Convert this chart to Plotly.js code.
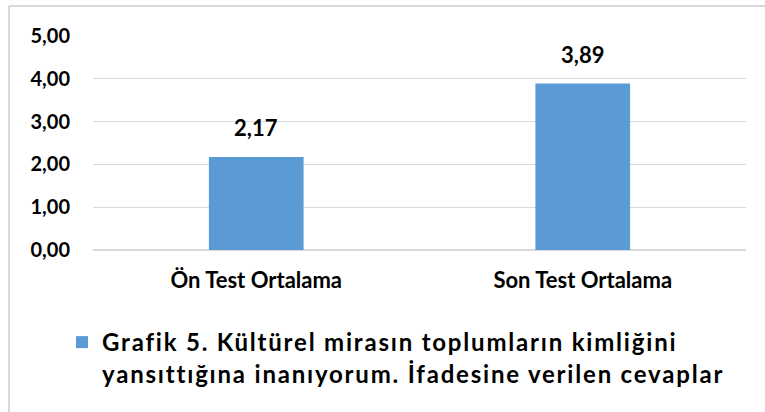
<!DOCTYPE html>
<html>
<head>
<meta charset="utf-8">
<script src="https://cdn.plot.ly/plotly-3.0.1.min.js"></script>
<style>
html,body{margin:0;padding:0;background:#fff;}
#chart{width:765px;height:412px;}
#chart .legendtext{letter-spacing:1.8px;}
#chart g.legend g.scrollbox{clip-path:none !important;}
</style>
</head>
<body>
<div id="chart"></div>
<script>
const categories = ["Ön Test Ortalama", "Son Test Ortalama"];
const values = [2.17, 3.89];
const valueLabels = ["2,17", "3,89"];
const tickValues = [0, 1, 2, 3, 4, 5];
const tickLabels = ["0,00", "1,00", "2,00", "3,00", "4,00", "5,00"];
const seriesName = "Grafik 5. Kültürel mirasın toplumların kimliğini<br>yansıttığına inanıyorum. İfadesine verilen cevaplar";

const FONT = "Lato, 'Open Sans', sans-serif";
const BLUE = "#5b9bd5";
const GRID = "#d9d9d9";

const trace = {
  type: "bar",
  x: categories,
  y: values,
  name: seriesName,
  marker: {color: BLUE},
  showlegend: true,
  hoverinfo: "none"
};

const annotations = categories.map((c, i) => ({
  x: c, y: values[i], xref: "x", yref: "y",
  text: "<b>" + valueLabels[i] + "</b>",
  showarrow: false, yanchor: "bottom", yshift: 14,
  font: {family: FONT, size: 22, color: "#000"}
}));

const layout = {
  width: 765, height: 412,
  margin: {l: 93, r: 19, t: 36, b: 162},
  paper_bgcolor: "#fff", plot_bgcolor: "#fff",
  bargap: 0.71,
  separators: ",.",
  font: {family: FONT, color: "#000"},
  xaxis: {
    showgrid: false, showline: false, ticks: "",
    tickfont: {family: FONT, size: 22, color: "#000", weight: "bold"},
    ticklabelstandoff: 15
  },
  yaxis: {
    range: [0, 5], tickvals: tickValues, ticktext: tickLabels,
    showgrid: true, gridcolor: GRID, gridwidth: 1.3,
    zeroline: true, zerolinecolor: GRID, zerolinewidth: 1.3,
    showline: false, ticks: "",
    tickfont: {family: FONT, size: 20, color: "#000", weight: "bold"},
    ticklabelstandoff: 22
  },
  showlegend: true,
  legend: {
    orientation: "h",
    xref: "container", yref: "container",
    x: 62/765, xanchor: "left",
    y: 1 - 320/412, yanchor: "top",
    valign: "top",
    font: {family: FONT, size: 24, color: "#000", weight: "bold"},
    itemwidth: 30
  },
  annotations: annotations,
  shapes: [
    {type: "line", xref: "paper", yref: "paper",
     x0: (9 - 93)/653, x1: (9 - 93)/653, y0: (250 - 420)/214, y1: 1 + (36 - 6)/214,
     line: {color: GRID, width: 2}},
    {type: "line", xref: "paper", yref: "paper",
     x0: (9 - 93)/653, x1: (775 - 93)/653, y0: 1 + (36 - 6)/214, y1: 1 + (36 - 6)/214,
     line: {color: GRID, width: 2}}
  ]
};

Plotly.newPlot("chart", [trace], layout, {displayModeBar: false, staticPlot: true});
</script>
</body>
</html>
